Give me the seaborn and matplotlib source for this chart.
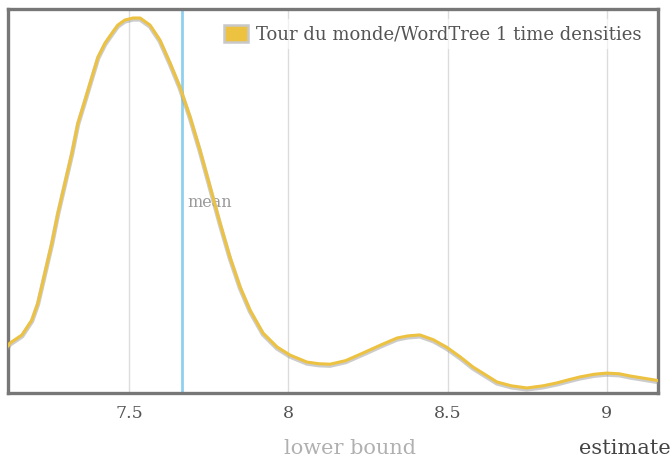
import numpy as np
import pandas as pd
import matplotlib
matplotlib.use("Agg")
import matplotlib.pyplot as plt
from matplotlib.patches import Patch
import seaborn as sns

# density curve (x in time units, y in arbitrary density units)
times = [7.119, 7.125, 7.163, 7.194, 7.213, 7.235, 7.257, 7.276, 7.298, 7.320,
         7.339, 7.361, 7.383, 7.402, 7.424, 7.446, 7.464, 7.486, 7.512, 7.534,
         7.565, 7.596, 7.628, 7.659, 7.691, 7.722, 7.754, 7.785, 7.816, 7.848,
         7.879, 7.920, 7.964, 8.005, 8.058, 8.095, 8.131, 8.180, 8.235, 8.290,
         8.341, 8.375, 8.413, 8.455, 8.498, 8.540, 8.580, 8.620, 8.655, 8.700,
         8.749, 8.800, 8.843, 8.880, 8.916, 8.960, 9.000, 9.040, 9.073, 9.110,
         9.161]
densities = [0.195, 0.208, 0.242, 0.304, 0.375, 0.500, 0.625, 0.750, 0.875, 1.000,
             1.125, 1.220, 1.317, 1.400, 1.458, 1.500, 1.533, 1.554, 1.5625, 1.5625,
             1.533, 1.471, 1.375, 1.275, 1.150, 1.012, 0.858, 0.708, 0.567, 0.442,
             0.346, 0.250, 0.192, 0.158, 0.129, 0.122, 0.120, 0.135, 0.167, 0.200,
             0.229, 0.238, 0.242, 0.222, 0.190, 0.150, 0.108, 0.075, 0.046, 0.030,
             0.021, 0.030, 0.042, 0.055, 0.067, 0.078, 0.083, 0.080, 0.071, 0.063,
             0.052]
mean_time = 7.665
tick_values = [7.5, 8, 8.5, 9]
tick_labels = ["7.5", "8", "8.5", "9"]
series_name = "Tour du monde/WordTree 1 time densities"


def main():
    sns.set_style("white")
    plt.rcParams["font.family"] = ["DejaVu Serif"]

    df = pd.DataFrame({"time": times, "density": densities})

    fig = plt.figure(figsize=(6.72, 4.59), dpi=100)
    ax = fig.add_axes([8 / 672, (459 - 393) / 459, 650 / 672, 384 / 459])

    # light vertical grid at the ticks
    for t in tick_values:
        ax.axvline(t, color="#dcdcdc", lw=1.0, zorder=0)

    # mean marker
    ax.axvline(mean_time, color="#8fd0ee", lw=2.0, zorder=1)
    ax.text(mean_time + 0.018, 0.795, "mean", color="#9a9a9a", fontsize=11.5,
            va="center", ha="left", zorder=2,
            bbox=dict(facecolor="white", edgecolor="none", alpha=0.6, pad=1))

    # shadow under the curve, then the curve itself
    ax.plot(df["time"], df["density"] - 0.006, color="#9a9a9a", lw=3.2,
            alpha=0.5, zorder=3, solid_capstyle="round")
    sns.lineplot(data=df, x="time", y="density", color="#edc240", lw=2.2,
                 ax=ax, zorder=4, label=series_name)

    ax.set_xlim(7.119, 9.161)
    ax.set_ylim(0, 1.6)
    ax.set_xticks(tick_values)
    ax.set_xticklabels(tick_labels)
    ax.set_yticks([])
    ax.set_xlabel("")
    ax.set_ylabel("")
    ax.tick_params(axis="x", length=0, pad=9, labelsize=12.5, labelcolor="#545454")

    for s in ax.spines.values():
        s.set_color("#777777")
        s.set_linewidth(2.4)

    # legend with a square swatch
    handle = Patch(facecolor="#edc240", edgecolor="#c8c8c8", linewidth=1.8)
    leg = ax.legend([handle], [series_name], loc="upper right",
                    bbox_to_anchor=(0.991, 0.987),
                    fontsize=13, frameon=True, handlelength=1.3, handleheight=1.1,
                    handletextpad=0.45, borderaxespad=0.3, borderpad=0.3)
    leg.get_frame().set_facecolor("white")
    leg.get_frame().set_alpha(0.6)
    leg.get_frame().set_edgecolor("none")
    for txt in leg.get_texts():
        txt.set_color("#545454")

    fig.text(350 / 672, 1 - 448 / 459, "lower bound", color="#b0b0b0",
             fontsize=15, ha="center", va="center")
    fig.text(579 / 672, 1 - 448 / 459, "estimate", color="#444444",
             fontsize=15, ha="left", va="center")

    fig.savefig("out.png", dpi=100, facecolor="white")


if __name__ == "__main__":
    main()
